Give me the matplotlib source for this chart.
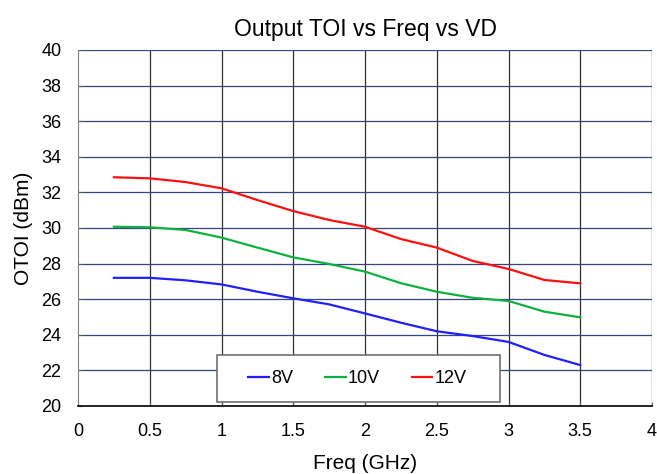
import matplotlib.pyplot as plt
from matplotlib.patches import Rectangle
import numpy as np

plt.rcParams['font.family'] = ['Liberation Sans', 'DejaVu Sans']

freq = [0.25, 0.5, 0.75, 1.0, 1.25, 1.5, 1.75, 2.0, 2.25, 2.5, 2.75, 3.0, 3.25, 3.5]
toi_8v = [27.2, 27.2, 27.06, 26.83, 26.42, 26.05, 25.71, 25.2, 24.68, 24.2, 23.93, 23.6, 22.87, 22.3]
toi_10v = [30.07, 30.04, 29.89, 29.46, 28.9, 28.35, 27.98, 27.55, 26.9, 26.42, 26.08, 25.9, 25.3, 24.98]
toi_12v = [32.85, 32.79, 32.58, 32.23, 31.57, 30.95, 30.45, 30.07, 29.38, 28.9, 28.15, 27.7, 27.08, 26.89]

xticks = np.arange(0, 4.01, 0.5)
yticks = np.arange(20, 40.1, 2)

fig = plt.figure(figsize=(6.57, 4.74), dpi=100)
ax = fig.add_axes([78/657, 1-406/474, (652-78)/657, (406-50)/474])

ax.plot(freq, toi_8v, color="#2020ff", lw=1.6, label="8V")
ax.plot(freq, toi_10v, color="#10b040", lw=1.6, label="10V")
ax.plot(freq, toi_12v, color="#ff1010", lw=1.6, label="12V")

ax.set_xlim(0, 4)
ax.set_ylim(20, 40)
ax.set_xticks(xticks)
ax.set_xticklabels(["0", "0.5", "1", "1.5", "2", "2.5", "3", "3.5", "4"])
ax.set_yticks(yticks)
ax.tick_params(labelsize=13, length=3, direction="in", color="#606060", pad=12)

# grid: vertical dark gray, horizontal navy
for x in xticks[1:]:
    ax.axvline(x, color="#303030", lw=0.9, zorder=0)
for y in yticks[1:]:
    ax.axhline(y, color="#34457f", lw=0.9, zorder=0)

for s in ["top", "right"]:
    ax.spines[s].set_visible(False)
ax.spines["left"].set_color("#808080")
ax.spines["bottom"].set_color("black")
ax.spines["bottom"].set_linewidth(1.2)

ax.set_xlabel("Freq (GHz)", fontsize=15, labelpad=10)
ax.set_ylabel("OTOI (dBm)", fontsize=15, labelpad=6)
ax.set_title("Output TOI vs Freq vs VD", fontsize=16.5, pad=10)

# legend box
x0, x1 = (217-78)/574, (500-78)/574
y0, y1 = (406-402)/356, (406-355)/356
ax.add_patch(Rectangle((x0, y0), x1-x0, y1-y0, transform=ax.transAxes,
                       facecolor="white", edgecolor="#707070", lw=1.2, zorder=5))
leg = ax.legend(loc="center", bbox_to_anchor=((x0+x1)/2 - 1/574, (y0+y1)/2),
                ncol=3, fontsize=13, frameon=False,
                handlelength=1.15, handletextpad=0.12, columnspacing=1.75)
leg.set_zorder(6)

plt.savefig("out.png", dpi=100)
